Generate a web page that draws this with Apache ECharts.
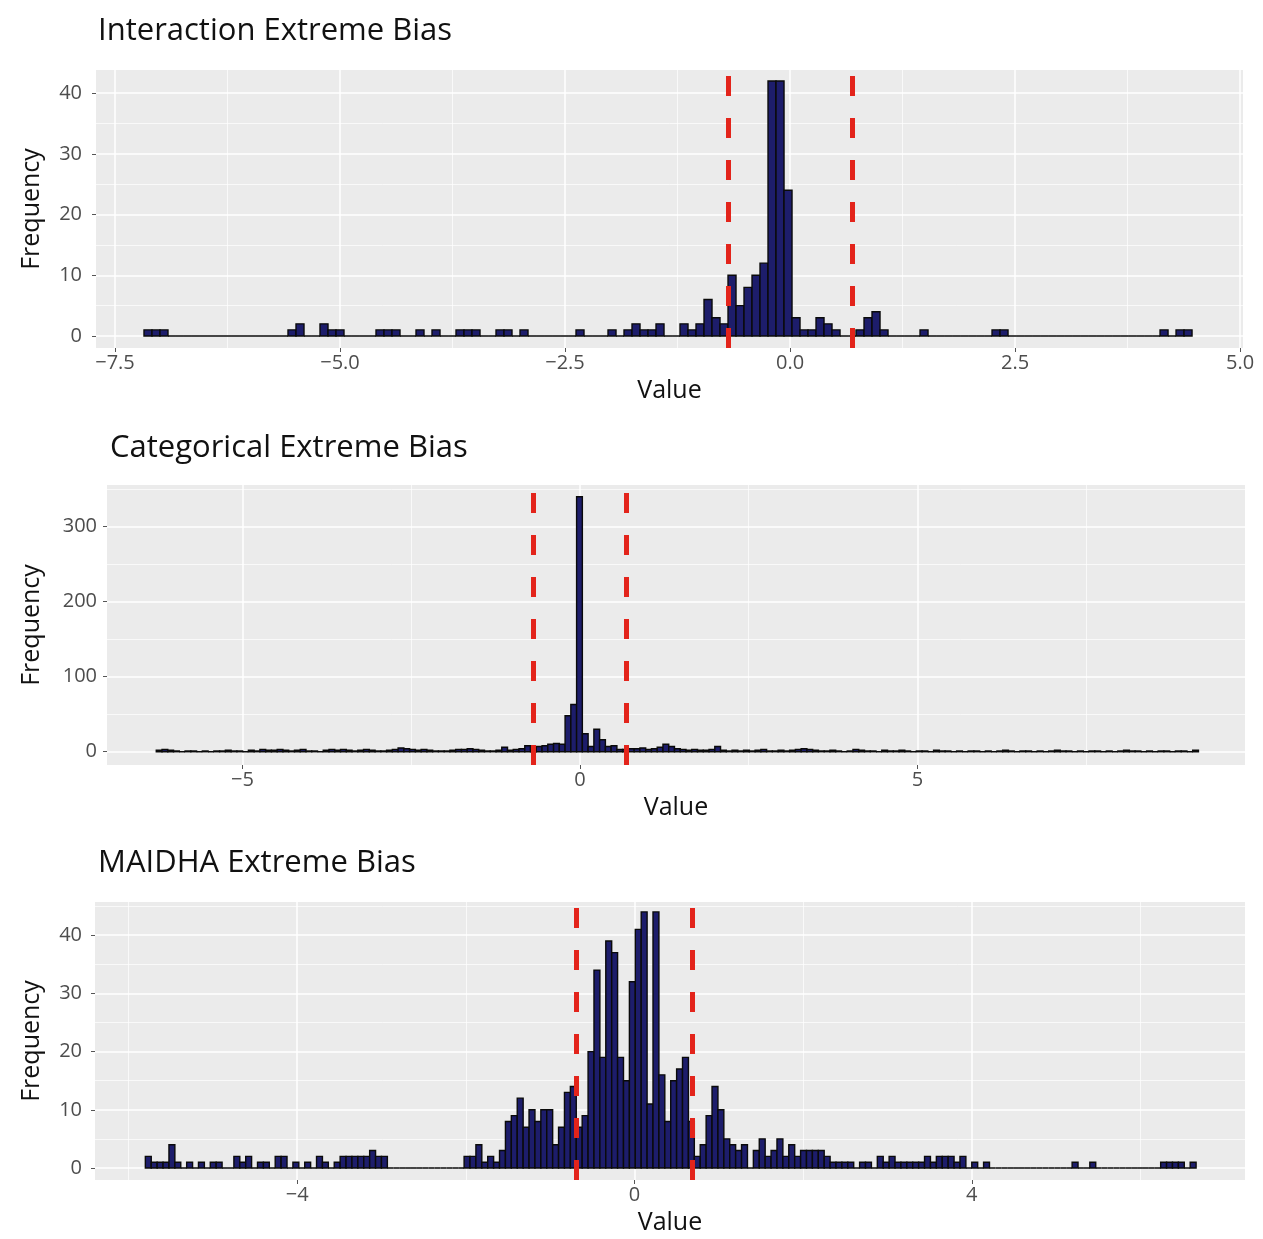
<!DOCTYPE html>
<html>
<head>
<meta charset="utf-8">
<script src="https://cdn.jsdelivr.net/npm/echarts@6/dist/echarts.min.js"></script>
<style>
html,body{margin:0;padding:0;background:#ffffff;}
#chart{width:1263px;height:1239px;}
</style>
</head>
<body>
<div id="chart"></div>
<script>
// ---------- DATA ----------
const thresholds = [-0.693, 0.693];

// Panel 1: Interaction Extreme Bias (histogram: first bin edge, bin width, counts)
const interStart = -7.1778;
const interBinWidth = 0.08889;
const interCounts = [
  1,1,1,0,0,0,0,0,0,0,
  0,0,0,0,0,0,0,0,1,2,
  0,0,2,1,1,0,0,0,0,1,
  1,1,0,0,1,0,1,0,0,1,
  1,1,0,0,1,1,0,1,0,0,
  0,0,0,0,1,0,0,0,1,0,
  1,2,1,1,2,0,0,2,1,2,
  6,3,2,10,5,8,10,12,42,42,
  24,3,1,1,3,2,1,0,0,1,
  3,4,1,0,0,0,0,1,0,0,
  0,0,0,0,0,0,1,1,0,0,
  0,0,0,0,0,0,0,0,0,0,
  0,0,0,0,0,0,0,1,0,1,
  1
];
const interXTicks = [-7.5, -5, -2.5, 0, 2.5, 5];
const interYTicks = [0, 10, 20, 30, 40];
const interXRange = [-7.711, 5.033];
const interYRange = [-1.98, 43.8];

// Panel 2: Categorical Extreme Bias
const catStart = -6.277;
const catBinWidth = 0.0853;
const catCounts = [
  2,3,2,1,0,1,1,0,1,0,
  1,1,2,1,1,0,2,1,3,2,
  2,3,2,1,2,3,1,1,0,2,
  3,2,3,2,1,2,3,2,1,1,
  2,3,5,4,3,2,3,2,1,1,
  1,2,3,3,4,3,2,1,1,2,
  6,2,3,4,8,6,7,8,10,11,
  10,48,63,340,24,7,30,16,7,8,
  3,3,4,4,5,3,4,6,10,7,
  4,3,2,3,2,2,3,7,2,1,
  2,1,2,1,2,3,1,1,2,1,
  2,3,4,3,2,1,1,2,1,0,
  1,3,2,1,1,0,2,1,1,2,
  1,0,1,1,0,2,1,1,0,1,
  0,1,1,0,1,0,1,2,1,0,
  1,1,0,1,0,1,2,1,1,0,
  1,0,1,1,0,1,0,1,2,1,
  1,0,1,0,1,1,0,1,1,0,
  2
];
const catXTicks = [-5, 0, 5];
const catYTicks = [0, 100, 200, 300];
const catXRange = [-7.007, 9.852];
const catYRange = [-17.7, 355.6];

// Panel 3: MAIDHA Extreme Bias
const maidhaStart = -5.80;
const maidhaBinWidth = 0.07;
const maidhaCounts = [
  2,1,1,1,4,1,0,1,0,1,
  0,1,1,0,0,2,1,2,0,1,
  1,0,2,2,0,1,0,1,0,2,
  1,0,1,2,2,2,2,2,3,2,
  2,0,0,0,0,0,0,0,0,0,
  0,0,0,0,2,2,4,1,2,1,
  3,8,9,12,7,10,8,10,10,4,
  7,13,14,7,9,20,34,19,39,37,
  19,15,32,41,44,11,44,16,8,15,
  17,19,8,2,4,9,14,10,5,4,
  3,4,0,3,5,2,3,5,2,4,
  2,3,3,3,3,2,1,1,1,1,
  0,1,1,0,2,1,2,1,1,1,
  1,1,2,1,2,2,2,1,2,0,
  1,0,1,0,0,0,0,0,0,0,
  0,0,0,0,0,0,0,1,0,0,
  1,0,0,0,0,0,0,0,0,0,
  0,0,1,1,1,1,0,1
];
const maidhaXTicks = [-4, 0, 4];
const maidhaYTicks = [0, 10, 20, 30, 40];
const maidhaXRange = [-6.397, 7.24];
const maidhaYRange = [-2.06, 45.7];

// ---------- STYLE / LAYOUT ----------
const FONT = "'Open Sans', 'DejaVu Sans', sans-serif";
const panels = [
  {title:'Interaction Extreme Bias', start:interStart, bw:interBinWidth, counts:interCounts,
   xTicks:interXTicks, yTicks:interYTicks, xRange:interXRange, yRange:interYRange, dec:1,
   grid:{left:96, top:70, width:1147, height:278}, titleLeft:93, titleTop:11, yMargin:14, yNameGap:52},
  {title:'Categorical Extreme Bias', start:catStart, bw:catBinWidth, counts:catCounts,
   xTicks:catXTicks, yTicks:catYTicks, xRange:catXRange, yRange:catYRange, dec:0,
   grid:{left:107, top:485, width:1138, height:280}, titleLeft:105, titleTop:428, yMargin:10, yNameGap:63},
  {title:'MAIDHA Extreme Bias', start:maidhaStart, bw:maidhaBinWidth, counts:maidhaCounts,
   xTicks:maidhaXTicks, yTicks:maidhaYTicks, xRange:maidhaXRange, yRange:maidhaYRange, dec:0,
   grid:{left:95, top:902, width:1150, height:278}, titleLeft:93, titleTop:843, yMargin:13, yNameGap:51}
];

function minorsOf(ticks, range) {
  const step = ticks[1] - ticks[0];
  const out = [];
  for (let v = ticks[0] - step / 2; v <= range[1]; v += step) {
    if (v >= range[0]) out.push(+v.toFixed(6));
  }
  return out;
}
function fmt(dec) {
  return v => (dec ? Number(v).toFixed(dec) : String(Math.round(v))).replace('-', '\u2212');
}

const option = {
  animation: false,
  backgroundColor: '#ffffff',
  title: [], grid: [], xAxis: [], yAxis: [], series: []
};

panels.forEach((p, k) => {
  option.title.push({
    text: p.title, left: p.titleLeft, top: p.titleTop,
    textStyle: {fontFamily: FONT, fontSize: 31, fontWeight: 'normal', color: '#111111'}
  });
  option.grid.push(Object.assign({show: true, backgroundColor: '#ebebeb', borderWidth: 0}, p.grid));

  // major x axis
  option.xAxis.push({
    gridIndex: k, type: 'value', min: p.xRange[0], max: p.xRange[1], position: 'bottom',
    axisLine: {show: false, onZero: false},
    axisTick: {show: true, length: 4, customValues: p.xTicks, lineStyle: {color: '#555555', width: 1}},
    axisLabel: {customValues: p.xTicks, formatter: fmt(p.dec), color: '#4d4d4d', fontSize: 20, fontFamily: FONT, margin: 5},
    splitLine: {show: true, lineStyle: {color: '#ffffff', width: 1.5}},
    name: 'Value', nameLocation: 'middle', nameGap: 30,
    nameTextStyle: {fontFamily: FONT, fontSize: 25, color: '#111111'}
  });
  // minor x grid
  option.xAxis.push({
    gridIndex: k, type: 'value', min: p.xRange[0], max: p.xRange[1], position: 'top',
    axisLine: {show: false, onZero: false}, axisLabel: {show: false},
    axisTick: {show: false, customValues: minorsOf(p.xTicks, p.xRange)},
    splitLine: {show: true, lineStyle: {color: '#ffffff', width: 0.7}}
  });
  // major y axis
  option.yAxis.push({
    gridIndex: k, type: 'value', min: p.yRange[0], max: p.yRange[1], position: 'left',
    axisLine: {show: false, onZero: false},
    axisTick: {show: true, length: 4, customValues: p.yTicks, lineStyle: {color: '#555555', width: 1}},
    axisLabel: {customValues: p.yTicks, color: '#4d4d4d', fontSize: 20, fontFamily: FONT, margin: p.yMargin},
    splitLine: {show: true, lineStyle: {color: '#ffffff', width: 1.5}},
    name: 'Frequency', nameLocation: 'middle', nameGap: p.yNameGap,
    nameTextStyle: {fontFamily: FONT, fontSize: 25, color: '#111111'}
  });
  // minor y grid
  option.yAxis.push({
    gridIndex: k, type: 'value', min: p.yRange[0], max: p.yRange[1], position: 'right',
    axisLine: {show: false, onZero: false}, axisLabel: {show: false},
    axisTick: {show: false, customValues: minorsOf(p.yTicks, p.yRange)},
    splitLine: {show: true, lineStyle: {color: '#ffffff', width: 0.7}}
  });

  option.series.push({
    type: 'custom',
    xAxisIndex: 2 * k, yAxisIndex: 2 * k,
    clip: true,
    data: p.counts.map((c, i) => [p.start + i * p.bw, p.start + (i + 1) * p.bw, c]),
    encode: {x: [0, 1], y: 2},
    renderItem: function (params, api) {
      const a = api.coord([api.value(0), api.value(2)]);
      const b = api.coord([api.value(1), 0]);
      return {
        type: 'rect',
        shape: {x: a[0], y: a[1], width: b[0] - a[0], height: b[1] - a[1]},
        style: {fill: '#1d1d6b', stroke: '#0a0a0a', lineWidth: 1.4}
      };
    },
    markLine: {
      silent: true, symbol: ['none', 'none'], label: {show: false},
      lineStyle: {color: '#e3241b', width: 5, type: [20, 22], opacity: 1},
      emphasis: {disabled: true},
      z: 10,
      data: thresholds.map(t => ({xAxis: t}))
    }
  });
});

const chart = echarts.init(document.getElementById('chart'), null, {renderer: 'canvas'});
chart.setOption(option);
</script>
</body>
</html>
